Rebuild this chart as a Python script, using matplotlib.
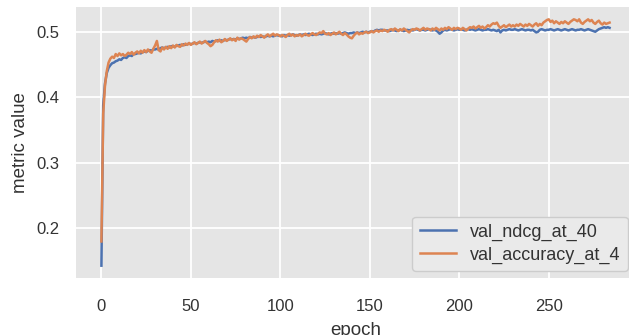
import matplotlib
matplotlib.use("Agg")
import matplotlib.pyplot as plt
import numpy as np

# values, one per epoch (0..284)
ndcg_at_40 = [
    0.143, 0.388, 0.421, 0.437, 0.445, 0.449, 0.452, 0.453, 0.455, 0.456,
    0.458, 0.457, 0.460, 0.461, 0.460, 0.463, 0.464, 0.463, 0.466, 0.466,
    0.467, 0.468, 0.467, 0.469, 0.470, 0.469, 0.471, 0.472, 0.471, 0.473,
    0.473, 0.474, 0.473, 0.475, 0.476, 0.475, 0.476, 0.477, 0.476, 0.478,
    0.478, 0.477, 0.479, 0.479, 0.480, 0.479, 0.481, 0.480, 0.481, 0.482,
    0.481, 0.482, 0.483, 0.482, 0.483, 0.484, 0.483, 0.484, 0.485, 0.484,
    0.485, 0.484, 0.486, 0.485, 0.486, 0.487, 0.486, 0.487, 0.486, 0.488,
    0.487, 0.488, 0.489, 0.488, 0.489, 0.488, 0.490, 0.489, 0.490, 0.491,
    0.490, 0.491, 0.490, 0.492, 0.491, 0.492, 0.491, 0.492, 0.493, 0.492,
    0.493, 0.492, 0.493, 0.494, 0.493, 0.494, 0.493, 0.494, 0.495, 0.494,
    0.494, 0.493, 0.495, 0.494, 0.495, 0.494, 0.495, 0.496, 0.495, 0.494,
    0.495, 0.496, 0.495, 0.496, 0.495, 0.496, 0.497, 0.496, 0.495, 0.496,
    0.497, 0.496, 0.497, 0.496, 0.497, 0.498, 0.497, 0.496, 0.497, 0.498,
    0.497, 0.498, 0.497, 0.498, 0.497, 0.498, 0.499, 0.498, 0.497, 0.498,
    0.498, 0.499, 0.498, 0.499, 0.498, 0.499, 0.500, 0.499, 0.500, 0.499,
    0.500, 0.501, 0.500, 0.502, 0.503, 0.502, 0.503, 0.503, 0.502, 0.502,
    0.502, 0.501, 0.502, 0.503, 0.502, 0.501, 0.502, 0.503, 0.502, 0.501,
    0.502, 0.503, 0.502, 0.503, 0.502, 0.503, 0.504, 0.503, 0.502, 0.503,
    0.503, 0.502, 0.503, 0.504, 0.503, 0.502, 0.503, 0.502, 0.500, 0.497,
    0.499, 0.502, 0.503, 0.502, 0.503, 0.504, 0.503, 0.502, 0.503, 0.504,
    0.503, 0.504, 0.503, 0.502, 0.503, 0.504, 0.503, 0.504, 0.503, 0.502,
    0.503, 0.504, 0.503, 0.502, 0.503, 0.503, 0.504, 0.503, 0.502, 0.503,
    0.502, 0.501, 0.503, 0.499, 0.502, 0.503, 0.502, 0.503, 0.504, 0.503,
    0.503, 0.504, 0.503, 0.502, 0.503, 0.504, 0.503, 0.502, 0.503, 0.503,
    0.502, 0.503, 0.501, 0.499, 0.500, 0.503, 0.504, 0.503, 0.502, 0.503,
    0.503, 0.504, 0.503, 0.502, 0.503, 0.504, 0.503, 0.502, 0.503, 0.504,
    0.503, 0.502, 0.503, 0.504, 0.503, 0.502, 0.503, 0.503, 0.504, 0.503,
    0.502, 0.503, 0.504, 0.503, 0.502, 0.501, 0.500, 0.502, 0.504, 0.505,
    0.506, 0.507, 0.506, 0.507, 0.506,
]

accuracy_at_4 = [
    0.180, 0.375, 0.418, 0.440, 0.453, 0.459, 0.462, 0.460, 0.466, 0.463,
    0.467, 0.464, 0.466, 0.463, 0.465, 0.468, 0.466, 0.469, 0.465, 0.468,
    0.470, 0.467, 0.471, 0.468, 0.472, 0.469, 0.473, 0.470, 0.468, 0.474,
    0.479, 0.486, 0.472, 0.470, 0.476, 0.473, 0.477, 0.474, 0.478, 0.475,
    0.479, 0.476, 0.480, 0.478, 0.477, 0.481, 0.479, 0.482, 0.480, 0.483,
    0.480, 0.482, 0.484, 0.481, 0.483, 0.485, 0.482, 0.484, 0.486, 0.483,
    0.481, 0.478, 0.480, 0.484, 0.487, 0.485, 0.488, 0.484, 0.486, 0.489,
    0.486, 0.488, 0.490, 0.487, 0.489, 0.486, 0.491, 0.488, 0.490, 0.489,
    0.487, 0.485, 0.489, 0.492, 0.490, 0.493, 0.491, 0.494, 0.492, 0.495,
    0.493, 0.491, 0.494, 0.496, 0.493, 0.495, 0.497, 0.494, 0.496, 0.495,
    0.493, 0.495, 0.494, 0.492, 0.495, 0.497, 0.494, 0.496, 0.493, 0.495,
    0.494, 0.496, 0.493, 0.495, 0.497, 0.495, 0.494, 0.496, 0.498, 0.496,
    0.495, 0.497, 0.499, 0.498, 0.501, 0.497, 0.496, 0.498, 0.495, 0.497,
    0.499, 0.496, 0.498, 0.500, 0.497, 0.495, 0.498, 0.496, 0.493, 0.491,
    0.490, 0.494, 0.497, 0.499, 0.496, 0.498, 0.497, 0.499, 0.500, 0.498,
    0.499, 0.501, 0.499, 0.501, 0.502, 0.500, 0.502, 0.501, 0.503, 0.502,
    0.500, 0.503, 0.504, 0.502, 0.505, 0.503, 0.501, 0.504, 0.502, 0.505,
    0.503, 0.501, 0.499, 0.502, 0.504, 0.503, 0.505, 0.504, 0.502, 0.504,
    0.506, 0.503, 0.505, 0.504, 0.502, 0.505, 0.503, 0.506, 0.504, 0.502,
    0.505, 0.503, 0.506, 0.504, 0.507, 0.505, 0.503, 0.506, 0.504, 0.506,
    0.505, 0.503, 0.506, 0.504, 0.502, 0.505, 0.507, 0.506, 0.508, 0.505,
    0.507, 0.509, 0.506, 0.508, 0.505, 0.507, 0.510, 0.508, 0.511, 0.513,
    0.512, 0.514, 0.509, 0.506, 0.508, 0.510, 0.507, 0.509, 0.511, 0.508,
    0.510, 0.508, 0.511, 0.509, 0.512, 0.510, 0.508, 0.511, 0.509, 0.512,
    0.510, 0.508, 0.511, 0.513, 0.509, 0.512, 0.510, 0.514, 0.516, 0.518,
    0.519, 0.515, 0.517, 0.513, 0.516, 0.514, 0.512, 0.515, 0.513, 0.516,
    0.514, 0.512, 0.515, 0.517, 0.519, 0.518, 0.516, 0.519, 0.514, 0.512,
    0.515, 0.517, 0.519, 0.516, 0.518, 0.514, 0.512, 0.515, 0.517, 0.513,
    0.511, 0.514, 0.512, 0.513, 0.514,
]

series_names = ["val_ndcg_at_40", "val_accuracy_at_4"]
epochs = np.arange(len(ndcg_at_40))

plt.rcParams["font.family"] = ["Liberation Sans", "DejaVu Sans"]
txt = "#333333"

fig = plt.figure(figsize=(6.29, 3.35), dpi=100)
# axes runs a bit past the right edge, the reference is cropped there
ax = fig.add_axes([76 / 629, 57 / 335, 559 / 629, 271 / 335])
ax.set_facecolor("#E5E5E5")

ax.plot(epochs, ndcg_at_40, color="#4C72B0", lw=1.8, label=series_names[0])
ax.plot(epochs, accuracy_at_4, color="#DD8452", lw=1.8, label=series_names[1])

ax.grid(True, color="white", lw=1.3)
ax.set_axisbelow(True)
for s in ax.spines.values():
    s.set_visible(False)
ax.tick_params(length=0, pad=12, labelsize=12, labelcolor=txt)
ax.tick_params(axis="x", pad=15)
ax.set_xticks([0, 50, 100, 150, 200, 250])
ax.set_yticks([0.2, 0.3, 0.4, 0.5])
ax.set_xlabel("epoch", fontsize=13.5, color=txt, labelpad=6)
ax.set_ylabel("metric value", fontsize=13.5, color=txt, labelpad=5)

leg = ax.legend(loc="lower right", fontsize=13, facecolor="#EAEAEA",
                edgecolor="#CCCCCC", framealpha=1, borderaxespad=0.4,
                labelspacing=0.3)
for t in leg.get_texts():
    t.set_color(txt)

fig.savefig("out.png", dpi=100)
